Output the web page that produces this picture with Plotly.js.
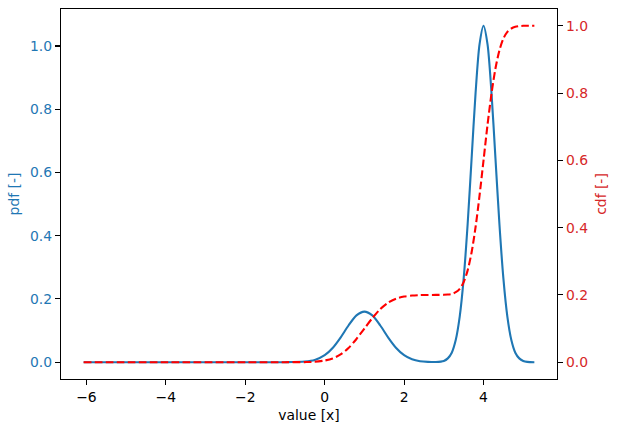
<!DOCTYPE html>
<html>
<head>
<meta charset="utf-8">
<script src="https://cdn.plot.ly/plotly-3.0.1.min.js"></script>
<style>
    html, body { margin: 0; padding: 0; background: #fff; }
    #chart { width: 618px; height: 432px; }
</style>
</head>
<body>
<div id="chart"></div>
<script>
// values
const xValues = [-6.07, -4, -2, -1, -0.5, -0.25, 0, 0.2, 0.4, 0.6, 0.8, 1.0, 1.2, 1.4, 1.6, 1.8,
    2.0, 2.2, 2.4, 2.6, 2.8, 3.0, 3.1, 3.2, 3.3, 3.4, 3.5, 3.6, 3.7, 3.8, 3.9, 4.0,
    4.1, 4.2, 4.3, 4.4, 4.5, 4.6, 4.7, 4.8, 4.9, 5.0, 5.1, 5.28];

const pdfValues = [0, 0, 0, 0, 0.002, 0.007, 0.022, 0.045, 0.078, 0.116, 0.148, 0.160, 0.148, 0.116, 0.078, 0.045,
    0.022, 0.009, 0.003, 0.001, 0.0006, 0.004, 0.012, 0.030, 0.070, 0.144, 0.265, 0.437, 0.645, 0.852, 1.006, 1.064,
    1.006, 0.852, 0.645, 0.437, 0.265, 0.144, 0.070, 0.030, 0.012, 0.004, 0.001, 0];

const cdfValues = [0, 0, 0, 0, 0.0003, 0.0012, 0.005, 0.011, 0.023, 0.042, 0.069, 0.100, 0.131, 0.158, 0.177, 0.189,
    0.195, 0.198, 0.1995, 0.1999, 0.200, 0.2003, 0.201, 0.203, 0.208, 0.218, 0.238, 0.273, 0.327, 0.402, 0.496, 0.600,
    0.705, 0.798, 0.873, 0.927, 0.962, 0.982, 0.992, 0.997, 0.999, 1.0, 1.0, 1.0];

const xTicks = [-6, -4, -2, 0, 2, 4];
const yTicks = [0, 0.2, 0.4, 0.6, 0.8, 1.0];

const BLUE = '#1f77b4';
const RED = '#d62728';
const FONT = 'DejaVu Sans, sans-serif';
const FS = 13.9; // 10pt at 100 dpi

function axisBase() {
    return {
        showgrid: false,
        zeroline: false,
        showline: true,
        linecolor: '#000',
        linewidth: 1.1,
        ticks: 'outside',
        ticklen: 5,
        tickwidth: 1.1,
        tickcolor: '#000'
    };
}

const traces = [
    {
        x: xValues, y: pdfValues, yaxis: 'y', type: 'scatter', mode: 'lines',
        line: { color: BLUE, width: 2.1, shape: 'spline', smoothing: 0.8 },
        hoverinfo: 'skip'
    },
    {
        x: xValues, y: cdfValues, yaxis: 'y2', type: 'scatter', mode: 'lines',
        line: { color: '#ff0000', width: 2.1, dash: '7.7px,3.3px', shape: 'spline', smoothing: 0.8 },
        hoverinfo: 'skip'
    }
];

const layout = {
    width: 618,
    height: 432,
    margin: { l: 61, r: 61, t: 9, b: 53 },
    paper_bgcolor: '#fff',
    plot_bgcolor: '#fff',
    showlegend: false,
    font: { family: FONT, size: FS, color: '#000' },
    xaxis: Object.assign(axisBase(), {
        range: [-6.64, 5.85],
        tickvals: xTicks,
        mirror: true,
        tickfont: { family: FONT, size: FS, color: '#000' },
        title: { text: 'value [x]', font: { family: FONT, size: FS, color: '#000' }, standoff: 6 }
    }),
    yaxis: Object.assign(axisBase(), {
        range: [-0.0532, 1.117],
        tickvals: yTicks,
        tickformat: '.1f',
        tickfont: { family: FONT, size: FS, color: BLUE },
        title: { text: 'pdf [-]', font: { family: FONT, size: FS, color: BLUE }, standoff: 7 }
    }),
    yaxis2: Object.assign(axisBase(), {
        range: [-0.05, 1.05],
        tickvals: yTicks,
        tickformat: '.1f',
        overlaying: 'y',
        side: 'right',
        tickfont: { family: FONT, size: FS, color: RED },
        title: { text: 'cdf [-]', font: { family: FONT, size: FS, color: RED }, standoff: 9 }
    })
};

Plotly.newPlot('chart', traces, layout, { staticPlot: true, displayModeBar: false });
</script>
</body>
</html>
